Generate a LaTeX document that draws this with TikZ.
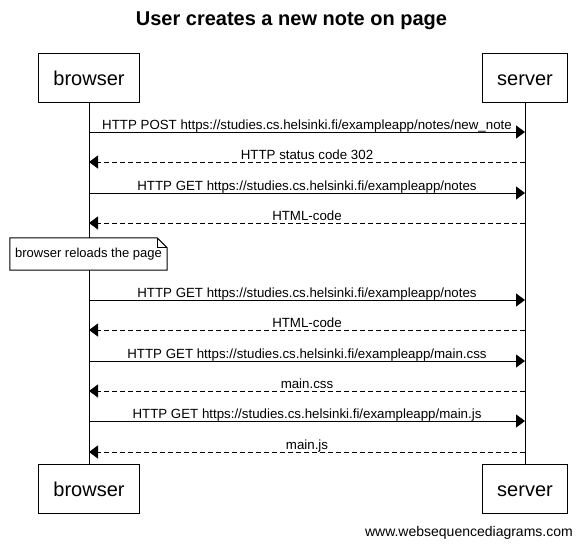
\documentclass[tikz,border=0pt]{standalone}
\usepackage{fontspec}
\setmainfont{Liberation Sans}
\usetikzlibrary{arrows.meta}

\begin{document}
\begin{tikzpicture}[x=1pt,y=-1pt,
  actor/.style={draw, line width=1pt, minimum height=49pt, inner xsep=15pt,
    text height=15pt, text depth=0pt, font=\fontsize{20}{24}\selectfont},
  req/.style={line width=1pt, -{Triangle[length=9pt,width=13pt]}},
  resp/.style={req, dash pattern=on 5pt off 3pt},
  msgtext/.style={midway, anchor=base, yshift=3pt, font=\fontsize{13.3}{15}\selectfont}]
\useasboundingbox (0,0) rectangle (583,549);

\node (title) at (291.5,21) {\fontsize{20}{24}\selectfont\bfseries User creates a new note on page};

\node (browserTop) [actor] at (89,77.5)  {browser};
\node (serverTop)  [actor] at (525,77.5) {server};
\node (browserBot) [actor] at (89,489)  {browser};
\node (serverBot)  [actor] at (525,489) {server};

\draw[line width=1pt] (browserTop) -- (browserBot);
\draw[line width=1pt] (serverTop) -- (serverBot);

% points on the lifelines
\coordinate (b1) at (89,132);  \coordinate (s1) at (525,132);
\coordinate (b2) at (89,162);  \coordinate (s2) at (525,162);
\coordinate (b3) at (89,193);  \coordinate (s3) at (525,193);
\coordinate (b4) at (89,223);  \coordinate (s4) at (525,223);
\coordinate (b5) at (89,300);  \coordinate (s5) at (525,300);
\coordinate (b6) at (89,330);  \coordinate (s6) at (525,330);
\coordinate (b7) at (89,361);  \coordinate (s7) at (525,361);
\coordinate (b8) at (89,391);  \coordinate (s8) at (525,391);
\coordinate (b9) at (89,421);  \coordinate (s9) at (525,421);
\coordinate (b10) at (89,452); \coordinate (s10) at (525,452);

\draw[req]  (b1) -- (s1) node[msgtext] {HTTP POST https://studies.cs.helsinki.fi/exampleapp/notes/new\_note};
\draw[resp] (s2) -- (b2) node[msgtext] {HTTP status code 302};
\draw[req]  (b3) -- (s3) node[msgtext] {HTTP GET https://studies.cs.helsinki.fi/exampleapp/notes};
\draw[resp] (s4) -- (b4) node[msgtext] {HTML-code};

% note over the browser
\node (reload) [fill=white, minimum width=157pt, minimum height=32pt, inner sep=0pt,
  font=\fontsize{13}{15}\selectfont] at (88.5,254) {browser reloads the page};
\draw[line width=1pt] (reload.north west) -- ([xshift=-10pt]reload.north east)
  -- ([yshift=-10pt]reload.north east) -- (reload.south east) -- (reload.south west) -- cycle;
\draw[line width=1pt] ([xshift=-10pt]reload.north east) |- ([yshift=-10pt]reload.north east);

\draw[req]  (b5) -- (s5) node[msgtext] {HTTP GET https://studies.cs.helsinki.fi/exampleapp/notes};
\draw[resp] (s6) -- (b6) node[msgtext] {HTML-code};
\draw[req]  (b7) -- (s7) node[msgtext] {HTTP GET https://studies.cs.helsinki.fi/exampleapp/main.css};
\draw[resp] (s8) -- (b8) node[msgtext] {main.css};
\draw[req]  (b9) -- (s9) node[msgtext] {HTTP GET https://studies.cs.helsinki.fi/exampleapp/main.js};
\draw[resp] (s10) -- (b10) node[msgtext] {main.js};

\node (footer) [anchor=east, inner sep=0pt, font=\fontsize{14}{16}\selectfont] at (573,533) {www.websequencediagrams.com};
\end{tikzpicture}
\end{document}
